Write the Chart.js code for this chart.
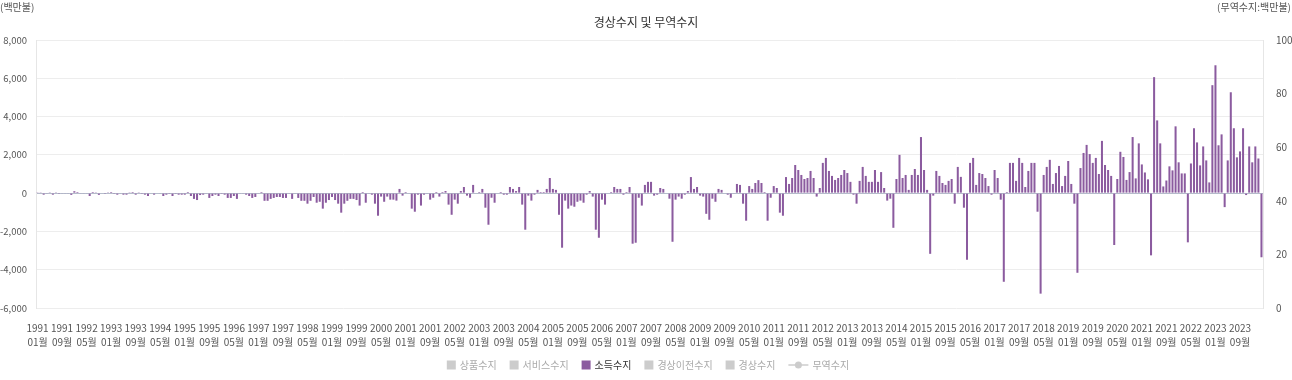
<!DOCTYPE html>
<html><head><meta charset="utf-8">
<script src="https://cdn.jsdelivr.net/npm/chart.js@4.4.0/dist/chart.umd.min.js"></script>
<style>html,body{margin:0;padding:0;background:#fff;}#wrap{position:relative;width:1292px;height:380px;}</style>
</head><body><div id="wrap"><canvas id="c" width="1292" height="380"></canvas></div>
<script>
const START_YEAR = 1991;
const MONTH_COUNT = 400; // 1991.01 ~ 2024.04
const LABEL_STEP = 8;
const categories = [];
for (let k = 0; k < MONTH_COUNT; k++) {
  categories.push((START_YEAR + Math.floor(k / 12)) + '.' + String(k % 12 + 1).padStart(2, '0'));
}
const seriesNames = ['상품수지', '서비스수지', '소득수지', '경상이전수지', '경상수지', '무역수지'];
const visibleSeries = ['소득수지'];
const leftTicks = [-6000, -4000, -2000, 0, 2000, 4000, 6000, 8000];
const rightTicks = [0, 20, 40, 60, 80, 100];
// 소득수지 (백만불), monthly
const incomeBalance = [
  40, 40, -80, -20, 10, -80, 10, -10, -30, -30,
  -30, -90, 100, 60, -30, -30, -30, -150, 60, 10,
  -90, 0, -10, 10, 60, -10, -80, -30, -80, -80,
  10, 60, -80, 10, -10, -80, -150, 0, -80, 0,
  -30, -150, -80, -10, -150, -10, -80, -80, -80, 60,
  -150, -300, -360, -100, -80, -30, -250, -150, -80, -150,
  -10, -80, -250, -250, -150, -300, -30, -30, -80, -150,
  -250, -200, -30, 60, -400, -400, -300, -250, -200, -200,
  -250, -250, -30, -300, -30, -250, -400, -400, -550, -400,
  -200, -500, -450, -810, -500, -360, -200, -360, -550, -1020,
  -550, -400, -300, -300, -360, -650, 60, -500, -30, -80,
  -550, -1180, -180, -450, -180, -340, -340, -390, 220, -130,
  60, 0, -810, -970, -80, -650, -80, -30, -340, -240,
  60, -180, 60, 110, -600, -1130, -340, -550, 110, 320,
  -130, -240, 430, 0, 60, 220, -760, -1650, -240, -500,
  0, 60, -80, -80, 320, 220, 110, 320, -600, -1910,
  -130, -390, -80, 170, 60, 60, 220, 790, 220, 170,
  -1130, -2850, -390, -810, -650, -710, -450, -390, -500, -80,
  110, -180, -1910, -2330, -340, -600, 0, 60, 320, 220,
  220, -80, 60, 320, -2640, -2590, -240, -650, 430, 590,
  590, -130, -80, 270, 220, 0, -290, -2540, -340, -180,
  -290, -80, 110, 840, 220, 320, -130, -180, -1080, -1390,
  -290, -450, 220, 170, 0, -80, -240, -30, 480, 430,
  -550, -1440, 370, 220, 530, 680, 530, 60, -1440, -240,
  370, 270, -1020, -1180, 840, 480, 790, 1470, 1210, 950,
  740, 790, 1160, 790, -180, 270, 1580, 1840, 1160, 900,
  690, 790, 950, 1210, 1050, 590, -80, -550, 640, 1370,
  900, 590, 590, 1210, 590, 1100, 270, -390, -290, -1810,
  740, 2000, 790, 950, 170, 950, 1260, 950, 2930, 1210,
  170, -3170, -130, 1160, 900, 530, 430, 640, 740, -550,
  1370, 850, -760, -3480, 1580, 1840, 430, 1050, 1000, 790,
  370, -80, 1210, 790, -340, -4630, 60, 1580, 1580, 640,
  1840, 1580, 320, 1160, 1580, 1580, -970, -5250, 950, 1370,
  1740, 480, 1050, 1420, 370, 900, 1680, 480, -550, -4160,
  1310, 2100, 2520, 2040, 1580, 1840, 1000, 2730, 1470, 1210,
  900, -2710, 740, 2160, 1890, 690, 1100, 2930, 770, 2600,
  1500, 1080, 720, -3250, 6060, 3800, 2600, 350, 660, 1400,
  1190, 3490, 1610, 1030, 1030, -2570, 1550, 3390, 2650, 1450,
  2440, 1710, 560, 5640, 6680, 2500, 3070, -730, 1710, 5270,
  3390, 1870, 2180, 3390, -100, 2440, 1610, 2440, 1810, -3350
];
const PURPLE = '#8b5b9f';
const MUTED = '#cccccc';
const FONT = "'Noto Sans CJK KR', 'Noto Sans', sans-serif";

const datasets = seriesNames.map((name) => {
  const shown = visibleSeries.includes(name);
  const isLine = name === '무역수지';
  return {
    type: isLine ? 'line' : 'bar',
    label: name,
    data: name === '소득수지' ? incomeBalance : [],
    hidden: !shown,
    yAxisID: isLine ? 'y1' : 'y',
    backgroundColor: PURPLE,
    borderColor: PURPLE,
    borderWidth: 0,
    barPercentage: 0.66,
    categoryPercentage: 1.0,
    grouped: false
  };
});

const textPlugin = {
  id: 'texts',
  afterDraw(chart) {
    const ctx = chart.ctx;
    ctx.save();
    ctx.fillStyle = '#333';
    ctx.font = '12px ' + FONT;
    ctx.textAlign = 'center';
    ctx.textBaseline = 'middle';
    ctx.fillText('경상수지 및 무역수지', 646, 22);
    ctx.font = '10px ' + FONT;
    ctx.fillStyle = '#555';
    ctx.textAlign = 'left';
    ctx.fillText('(백만불)', 0, 7);
    ctx.textAlign = 'right';
    ctx.fillText('(무역수지:백만불)', 1291, 7);
    // legend
    ctx.font = '10px ' + FONT;
    const gap = 4, box = 9, spacing = 13;
    const items = chart.data.datasets.map((ds, i) => {
      const vis = chart.isDatasetVisible(i);
      const isLine = ds.type === 'line';
      const w = (isLine ? 20 : box) + gap + ctx.measureText(ds.label).width;
      return { ds, vis, isLine, w };
    });
    const total = items.reduce((a, b) => a + b.w, 0) + spacing * (items.length - 1);
    let x = 648 - total / 2;
    const y = 365;
    items.forEach(it => {
      const col = it.vis ? it.ds.backgroundColor : MUTED;
      if (it.isLine) {
        ctx.strokeStyle = col; ctx.lineWidth = 1.5;
        ctx.beginPath(); ctx.moveTo(x, y); ctx.lineTo(x + 20, y); ctx.stroke();
        ctx.fillStyle = col; ctx.beginPath(); ctx.arc(x + 10, y, 3.5, 0, Math.PI * 2); ctx.fill();
        x += 20 + gap;
      } else {
        ctx.fillStyle = col; ctx.fillRect(x, y - box / 2, box, box);
        x += box + gap;
      }
      ctx.fillStyle = it.vis ? '#333' : '#aaa';
      ctx.textAlign = 'left';
      ctx.fillText(it.ds.label, x, y);
      x += ctx.measureText(it.ds.label).width + spacing;
    });
    ctx.restore();
  }
};

new Chart(document.getElementById('c'), {
  data: { labels: categories, datasets },
  options: {
    responsive: false,
    animation: false,
    devicePixelRatio: 1,
    layout: { padding: { top: 40, bottom: 26, left: 0, right: 0 } },
    plugins: { legend: { display: false }, title: { display: false }, tooltip: { enabled: false } },
    scales: {
      x: {
        type: 'category',
        grid: { display: false },
        border: { display: false },
        ticks: {
          autoSkip: false, maxRotation: 0, minRotation: 0, padding: 5,
          color: '#555', font: { family: FONT, size: 10, lineHeight: 1.4 },
          callback(v, idx) {
            if (idx % LABEL_STEP !== 0) return null;
            const s = categories[idx].split('.');
            return [s[0], s[1] + '월'];
          }
        }
      },
      y: {
        position: 'left', min: leftTicks[0], max: leftTicks[leftTicks.length - 1],
        afterBuildTicks(s) { s.ticks = leftTicks.map(v => ({ value: v })); },
        afterFit(s) { s.width = 36; },
        border: { color: '#e6e6e6' },
        grid: { color: c => c.tick && c.tick.value === 0 ? '#b5bccb' : '#ededed', tickLength: 0 },
        ticks: { color: '#555', font: { family: FONT, size: 9.5 }, padding: 9,
          callback: v => Number(v).toLocaleString('en-US') }
      },
      y1: {
        position: 'right', min: rightTicks[0], max: rightTicks[rightTicks.length - 1],
        afterBuildTicks(s) { s.ticks = rightTicks.map(v => ({ value: v })); },
        afterFit(s) { s.width = 29; },
        border: { color: '#e6e6e6' },
        grid: { drawOnChartArea: false, tickLength: 0 },
        ticks: { color: '#555', font: { family: FONT, size: 10 }, padding: 13 }
      }
    }
  },
  plugins: [textPlugin]
});
</script></body></html>
